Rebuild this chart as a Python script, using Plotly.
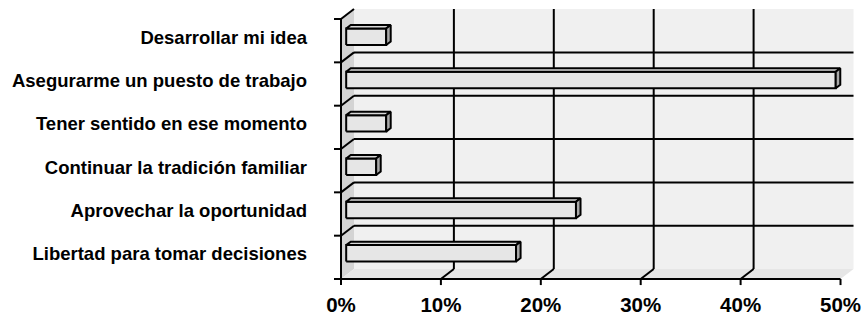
import plotly.graph_objects as go

# ---- data ----
categories = [
    "Desarrollar mi idea",
    "Asegurarme un puesto de trabajo",
    "Tener sentido en ese momento",
    "Continuar la tradición familiar",
    "Aprovechar la oportunidad",
    "Libertad para tomar decisiones",
]
values = [4, 49, 4, 3, 23, 17]  # percent
x_ticks = [0, 10, 20, 30, 40, 50]
x_tick_labels = ["0%", "10%", "20%", "30%", "40%", "50%"]

# ---- pseudo-3D geometry (in data units) ----
XMAX = 50
DX = 1.3      # depth offset along x (percent units)
DY = 0.23     # depth offset along y (category units)
F1, F2 = 0.4, 0.75   # bar depth (front / back fraction)
HALF = 0.19          # half thickness of bar
n = len(categories)
ypos = [n - 1 - i + 0.5 for i in range(n)]  # first category at top
label_pos = [y + 0.08 for y in ypos]

BLACK = "black"
shapes = []


def path(pts):
    return "M " + " L ".join(f"{x},{y}" for x, y in pts) + " Z"


def seg(x0, y0, x1, y1, w=2):
    shapes.append(dict(type="line", xref="x", yref="y", x0=x0, y0=y0, x1=x1, y1=y1,
                       line=dict(color=BLACK, width=w), layer="below"))


# back wall
shapes.append(dict(type="path", xref="x", yref="y", layer="below",
                   path=path([(DX, DY), (XMAX + DX, DY), (XMAX + DX, n + DY), (DX, n + DY)]),
                   fillcolor="#f0f0f0", line=dict(width=0)))
# left wall
shapes.append(dict(type="path", xref="x", yref="y", layer="below",
                   path=path([(0, 0), (0, n), (DX, n + DY), (DX, DY)]),
                   fillcolor="#d4d4d4", line=dict(width=0)))
# floor
shapes.append(dict(type="path", xref="x", yref="y", layer="below",
                   path=path([(0, 0), (XMAX, 0), (XMAX + DX, DY), (DX, DY)]),
                   fillcolor="#e6e6e6", line=dict(width=0)))

# back-wall gridlines
for t in x_ticks[1:-1]:
    seg(t + DX, DY, t + DX, n + DY)
    seg(t, 0, t + DX, DY)
for k in range(1, n):
    seg(DX, k + DY, XMAX + DX, k + DY)
for k in range(1, n + 1):
    seg(0, k, DX, k + DY)

# front axes
seg(0, -0.14, 0, n)
seg(0, 0, XMAX, 0)
for k in range(0, n + 1):
    seg(-0.7, k, 0, k)
for t in x_ticks:
    seg(t, 0, t, -0.14)

# ---- bars as polygons ----
front_x, front_y, top_x, top_y, side_x, side_y = [], [], [], [], [], []
ddx, ddy = (F2 - F1) * DX, (F2 - F1) * DY
for v, yc0 in zip(values, ypos):
    x0 = F1 * DX
    x1 = v + F1 * DX
    yc = yc0 + F1 * DY
    yb, yt = yc - HALF, yc + HALF
    front_x += [x0, x1, x1, x0, x0, None]
    front_y += [yb, yb, yt, yt, yb, None]
    top_x += [x0, x1, x1 + ddx, x0 + ddx, x0, None]
    top_y += [yt, yt, yt + ddy, yt + ddy, yt, None]
    side_x += [x1, x1 + ddx, x1 + ddx, x1, x1, None]
    side_y += [yb, yb + ddy, yt + ddy, yt, yb, None]

fig = go.Figure()
for xs, ys, col in [(front_x, front_y, "#e6e6e6"), (top_x, top_y, "#d8d8d8"),
                    (side_x, side_y, "#a9a9a9")]:
    fig.add_trace(go.Scatter(x=xs, y=ys, mode="lines", fill="toself", fillcolor=col,
                             line=dict(color=BLACK, width=2), hoverinfo="skip",
                             showlegend=False))

fig.update_layout(
    width=864, height=315,
    margin=dict(l=330, r=4, t=4, b=27, autoexpand=False),
    paper_bgcolor="white", plot_bgcolor="white",
    shapes=shapes,
    xaxis=dict(range=[-1.101, 51.95], showgrid=False, zeroline=False, showline=False,
               automargin=False,
               tickmode="array", tickvals=x_ticks, ticktext=x_tick_labels, ticks="",
               ticklabelstandoff=2,
               tickfont=dict(family="Liberation Sans", size=20.5, color=BLACK, weight="bold"),
               fixedrange=True),
    yaxis=dict(range=[-0.2077, 6.3467], showgrid=False, zeroline=False, showline=False,
               automargin=False,
               tickmode="array", tickvals=label_pos, ticktext=categories, ticks="",
               ticklabelstandoff=22,
               tickfont=dict(family="Liberation Sans", size=18.5, color=BLACK, weight="bold"),
               fixedrange=True),
)

fig.write_html("out.html", post_script="document.body.style.margin='0';",
               config={"displayModeBar": False})
